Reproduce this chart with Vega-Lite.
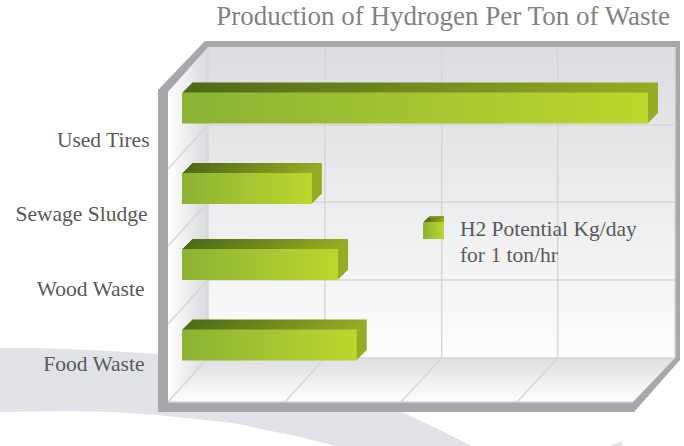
{
"$schema":"https://vega.github.io/schema/vega-lite/v6.json",
"width":684,"height":446,"padding":0,"autosize":{"type":"none"},"background":"white",
"view":{"stroke":null},
"title":{"text":"Production of Hydrogen Per Ton of Waste","anchor":"end","frame":"group","offset":-31,"dx":-14,"font":"Liberation Sans Narrow","fontSize":27,"fontWeight":"normal","color":"#808285"},
"datasets":{
"waste":[{"Waste":"Used Tires","Potential":4000},{"Waste":"Sewage Sludge","Potential":1115},{"Waste":"Wood Waste","Potential":1340},{"Waste":"Food Waste","Potential":1500}],
"swoosh":[{"x":-1562,"y":348,"y2":412},{"x":-1279,"y":348,"y2":411.5},{"x":-987,"y":349,"y2":411},{"x":-618,"y":351,"y2":412},{"x":-215,"y":354,"y2":415},{"x":438,"y":370,"y2":423},{"x":1013,"y":390,"y2":437},{"x":1313,"y":400,"y2":446},{"x":1888,"y":412,"y2":446},{"x":2215,"y":430,"y2":446},{"x":2489,"y":446,"y2":446}],
"swoosh2":[{"x":3674,"y":446,"y2":446},{"x":3777,"y":441,"y2":446}],
"frame":[{"x":-206,"y":90,"y2":412},{"x":197,"y":41,"y2":412},{"x":3880,"y":41,"y2":412},{"x":4275,"y":41,"y2":360}],
"wall":[{"x":223,"x2":4232,"y":47,"y2":358}],
"leftWall":[{"x":-120,"y":92,"y2":402},{"x":223,"y":47,"y2":358}],
"floor":[{"x":-120,"y":402,"y2":402},{"x":223,"y":358,"y2":402},{"x":3871,"y":358,"y2":402},{"x":4232,"y":358,"y2":358}],
"grid":[
{"x":1227,"x2":1227,"y":47,"y2":358},{"x":2229,"x2":2229,"y":47,"y2":358},{"x":3225,"x2":3225,"y":47,"y2":358},
{"x":223,"x2":4232,"y":125,"y2":125},{"x":223,"x2":4232,"y":202,"y2":202},{"x":223,"x2":4232,"y":280,"y2":280},{"x":223,"x2":4232,"y":358,"y2":358},
{"x":223,"x2":223,"y":47,"y2":358},{"x":4232,"x2":4232,"y":47,"y2":358},
{"x":223,"x2":-120,"y":125,"y2":169},{"x":223,"x2":-120,"y":202,"y2":246},{"x":223,"x2":-120,"y":280,"y2":324},{"x":223,"x2":-120,"y":358,"y2":402},
{"x":1227,"x2":884,"y":358,"y2":402},{"x":2229,"x2":1880,"y":358,"y2":402},{"x":3225,"x2":2876,"y":358,"y2":402},
{"x":-120,"x2":3871,"y":402,"y2":402}],
"cube":[{"x":2069,"x2":2249,"y":222,"y2":239}],
"key":[{"x":2386,"y":236,"label":"H2 Potential Kg/day\nfor 1 ton/hr"}]
},
"encoding":{"x":{"field":"x","type":"quantitative","scale":{"domain":[-1562,4309],"range":[0,684],"nice":false,"zero":false},"axis":null}},
"layer":[
{"encoding":{"y":{"field":"y","type":"quantitative","scale":{"domain":[0,446],"range":[0,446],"nice":false,"zero":false},"axis":null},"y2":{"field":"y2"}},
"layer":[
{"data":{"name":"swoosh"},"mark":{"type":"area","color":"#e2e3e8"}},
{"data":{"name":"swoosh2"},"mark":{"type":"area","color":"#e2e3e8"}},
{"data":{"name":"frame"},"mark":{"type":"area","color":"#a7a8ac"}},
{"data":{"name":"wall"},"mark":{"type":"rect","color":{"gradient":"linear","x1":0,"x2":0,"y1":0,"y2":1,"stops":[{"offset":0,"color":"#dcdde0"},{"offset":1,"color":"#fdfdfd"}]}},"encoding":{"x2":{"field":"x2"}}},
{"data":{"name":"leftWall"},"mark":{"type":"area","color":{"gradient":"linear","x1":0,"x2":1,"y1":0,"y2":0,"stops":[{"offset":0,"color":"#ffffff"},{"offset":1,"color":"#d9dadd"}]}}},
{"data":{"name":"floor"},"mark":{"type":"area","color":{"gradient":"linear","x1":0,"x2":0,"y1":0,"y2":1,"stops":[{"offset":0,"color":"#dedfe1"},{"offset":1,"color":"#ffffff"}]}}},
{"data":{"name":"grid"},"mark":{"type":"rule","color":"#d5d6d8","strokeWidth":1.5},"encoding":{"x2":{"field":"x2"}}},
{"data":{"name":"cube"},"mark":{"type":"rect","xOffset":6,"yOffset":-6,"color":"#8f9f22"},"encoding":{"x2":{"field":"x2"}}},
{"data":{"name":"cube"},"mark":{"type":"rect","xOffset":5,"yOffset":-5,"color":"#7f9420"},"encoding":{"x2":{"field":"x2"}}},
{"data":{"name":"cube"},"mark":{"type":"rect","xOffset":4,"yOffset":-4,"color":{"gradient":"linear","x1":0,"x2":1,"y1":0,"y2":0,"stops":[{"offset":0,"color":"#4f6a17"},{"offset":1,"color":"#98ab24"}]}},"encoding":{"x2":{"field":"x2"}}},
{"data":{"name":"cube"},"mark":{"type":"rect","xOffset":3,"yOffset":-3,"color":{"gradient":"linear","x1":0,"x2":1,"y1":0,"y2":0,"stops":[{"offset":0,"color":"#4f6a17"},{"offset":1,"color":"#98ab24"}]}},"encoding":{"x2":{"field":"x2"}}},
{"data":{"name":"cube"},"mark":{"type":"rect","xOffset":2,"yOffset":-2,"color":{"gradient":"linear","x1":0,"x2":1,"y1":0,"y2":0,"stops":[{"offset":0,"color":"#4f6a17"},{"offset":1,"color":"#98ab24"}]}},"encoding":{"x2":{"field":"x2"}}},
{"data":{"name":"cube"},"mark":{"type":"rect","xOffset":1,"yOffset":-1,"color":{"gradient":"linear","x1":0,"x2":1,"y1":0,"y2":0,"stops":[{"offset":0,"color":"#4f6a17"},{"offset":1,"color":"#98ab24"}]}},"encoding":{"x2":{"field":"x2"}}},
{"data":{"name":"cube"},"mark":{"type":"rect","color":{"gradient":"linear","x1":0,"x2":1,"y1":0,"y2":0,"stops":[{"offset":0,"color":"#8cb236"},{"offset":1,"color":"#bdd72d"}]}},"encoding":{"x2":{"field":"x2"}}},
{"data":{"name":"key"},"mark":{"type":"text","align":"left","baseline":"alphabetic","lineBreak":"\n","lineHeight":26,"font":"Liberation Sans Narrow","fontSize":21.5,"color":"#58595b"},"encoding":{"y2":null,"text":{"field":"label"}}}
]},
{"data":{"name":"waste"},
"encoding":{
"x":{"field":"Potential","type":"quantitative","scale":{"domain":[-1562,4309],"range":[0,684],"nice":false,"zero":false},
"axis":{"title":null,"zindex":1,"values":[0,1000,2000,3000,4000],"labelOffset":-25,"domain":false,"ticks":false,"grid":false,"offset":-24,"labelPadding":0,"labelFont":"Liberation Sans Narrow","labelFontSize":21.5,"labelColor":"#58595b","labelFlush":false,"labelOverlap":false,"labelBound":false,"format":"d"}},
"y":{"field":"Waste","type":"nominal","sort":["Used Tires","Sewage Sludge","Wood Waste","Food Waste"],
"scale":{"domain":["Used Tires","Sewage Sludge","Wood Waste","Food Waste"],"range":[68.5,384.5],"paddingInner":0.6,"paddingOuter":0.3},
"axis":{"title":null,"zindex":1,"domain":false,"ticks":false,"grid":false,"offset":-150,"labelAlign":"right","labelOverlap":false,"labelBound":false,"labelFont":"Liberation Sans Narrow","labelFontSize":21.5,"labelColor":"#58595b",
"labelOffset":{"expr":"datum.value==='Used Tires'?33:datum.value==='Sewage Sludge'?28:datum.value==='Wood Waste'?24:20"},
"labelPadding":{"expr":"datum.value==='Used Tires'?1:datum.value==='Sewage Sludge'?3:6"}}}
},
"layer":[
{"mark":{"type":"bar","size":31,"xOffset":10,"yOffset":{"expr":"-10+(datum.Waste==='Sewage Sludge'?1.5:datum.Waste==='Wood Waste'?-1.5:0)"},"color":{"gradient":"linear","x1":0,"x2":1,"y1":0,"y2":0,"stops":[{"offset":0,"color":"#4f6a17"},{"offset":1,"color":"#98ab24"}]}}},
{"mark":{"type":"bar","size":31,"xOffset":9,"yOffset":{"expr":"-9+(datum.Waste==='Sewage Sludge'?1.5:datum.Waste==='Wood Waste'?-1.5:0)"},"color":{"gradient":"linear","x1":0,"x2":1,"y1":0,"y2":0,"stops":[{"offset":0,"color":"#4f6a17"},{"offset":1,"color":"#98ab24"}]}}},
{"mark":{"type":"bar","size":31,"xOffset":8,"yOffset":{"expr":"-8+(datum.Waste==='Sewage Sludge'?1.5:datum.Waste==='Wood Waste'?-1.5:0)"},"color":{"gradient":"linear","x1":0,"x2":1,"y1":0,"y2":0,"stops":[{"offset":0,"color":"#4f6a17"},{"offset":1,"color":"#98ab24"}]}}},
{"mark":{"type":"bar","size":31,"xOffset":7,"yOffset":{"expr":"-7+(datum.Waste==='Sewage Sludge'?1.5:datum.Waste==='Wood Waste'?-1.5:0)"},"color":{"gradient":"linear","x1":0,"x2":1,"y1":0,"y2":0,"stops":[{"offset":0,"color":"#4f6a17"},{"offset":1,"color":"#98ab24"}]}}},
{"mark":{"type":"bar","size":31,"xOffset":6,"yOffset":{"expr":"-6+(datum.Waste==='Sewage Sludge'?1.5:datum.Waste==='Wood Waste'?-1.5:0)"},"color":{"gradient":"linear","x1":0,"x2":1,"y1":0,"y2":0,"stops":[{"offset":0,"color":"#4f6a17"},{"offset":1,"color":"#98ab24"}]}}},
{"mark":{"type":"bar","size":31,"xOffset":5,"yOffset":{"expr":"-5+(datum.Waste==='Sewage Sludge'?1.5:datum.Waste==='Wood Waste'?-1.5:0)"},"color":{"gradient":"linear","x1":0,"x2":1,"y1":0,"y2":0,"stops":[{"offset":0,"color":"#4f6a17"},{"offset":1,"color":"#98ab24"}]}}},
{"mark":{"type":"bar","size":31,"xOffset":4,"yOffset":{"expr":"-4+(datum.Waste==='Sewage Sludge'?1.5:datum.Waste==='Wood Waste'?-1.5:0)"},"color":{"gradient":"linear","x1":0,"x2":1,"y1":0,"y2":0,"stops":[{"offset":0,"color":"#4f6a17"},{"offset":1,"color":"#98ab24"}]}}},
{"mark":{"type":"bar","size":31,"xOffset":3,"yOffset":{"expr":"-3+(datum.Waste==='Sewage Sludge'?1.5:datum.Waste==='Wood Waste'?-1.5:0)"},"color":{"gradient":"linear","x1":0,"x2":1,"y1":0,"y2":0,"stops":[{"offset":0,"color":"#4f6a17"},{"offset":1,"color":"#98ab24"}]}}},
{"mark":{"type":"bar","size":31,"xOffset":2,"yOffset":{"expr":"-2+(datum.Waste==='Sewage Sludge'?1.5:datum.Waste==='Wood Waste'?-1.5:0)"},"color":{"gradient":"linear","x1":0,"x2":1,"y1":0,"y2":0,"stops":[{"offset":0,"color":"#4f6a17"},{"offset":1,"color":"#98ab24"}]}}},
{"mark":{"type":"bar","size":31,"xOffset":1,"yOffset":{"expr":"-1+(datum.Waste==='Sewage Sludge'?1.5:datum.Waste==='Wood Waste'?-1.5:0)"},"color":{"gradient":"linear","x1":0,"x2":1,"y1":0,"y2":0,"stops":[{"offset":0,"color":"#4f6a17"},{"offset":1,"color":"#98ab24"}]}}},
{"mark":{"type":"bar","size":31,"yOffset":{"expr":"(datum.Waste==='Sewage Sludge'?1.5:datum.Waste==='Wood Waste'?-1.5:0)"},"color":{"gradient":"linear","x1":0,"x2":1,"y1":0,"y2":0,"stops":[{"offset":0,"color":"#8cb236"},{"offset":1,"color":"#bdd72d"}]}}}
]}
],
"resolve":{"scale":{"y":"independent"}}
}
